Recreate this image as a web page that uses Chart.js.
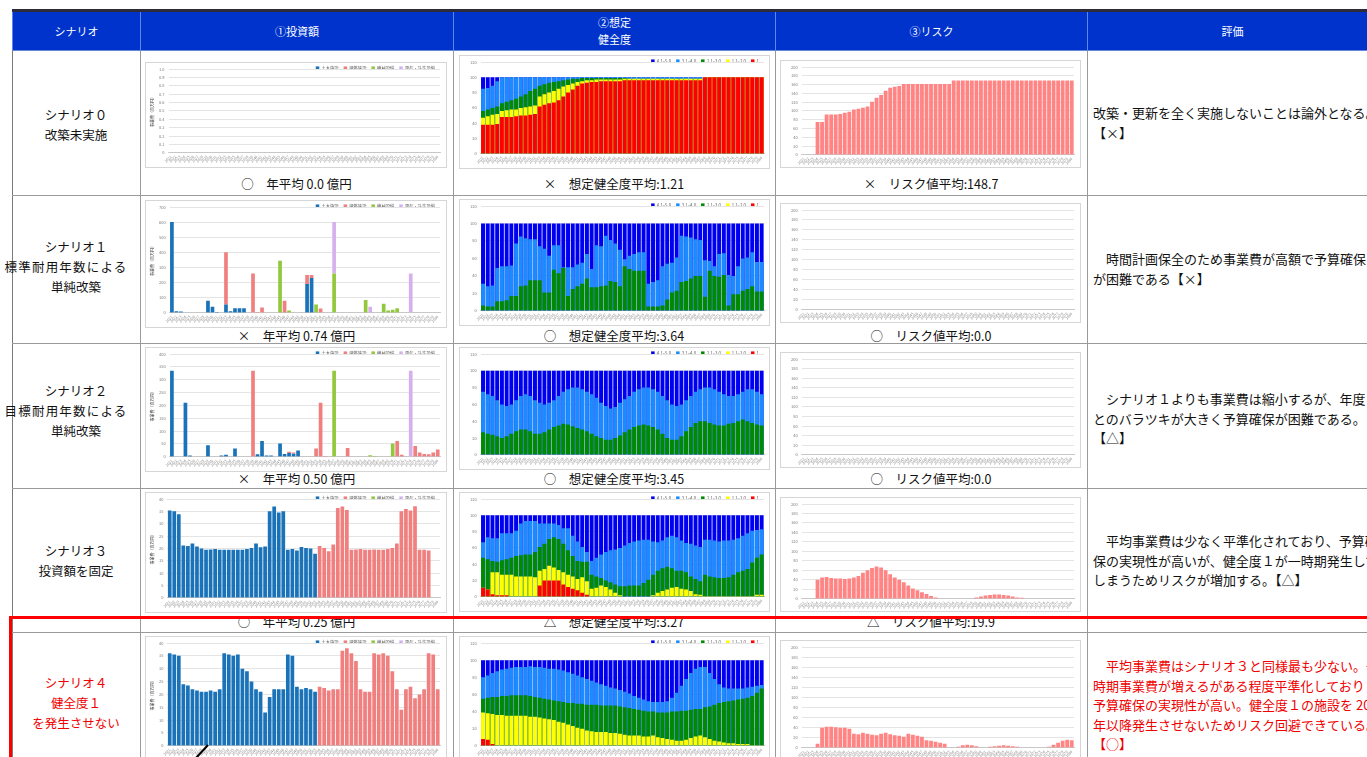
<!DOCTYPE html>
<html lang="ja">
<head>
<meta charset="utf-8">
<title>シナリオ比較</title>
<script src="https://cdn.jsdelivr.net/npm/chart.js@4.4.1/dist/chart.umd.min.js"></script>
<style>
html,body{margin:0;padding:0;background:#fff;width:1367px;height:757px;overflow:hidden;}
body{font-family:"Noto Sans CJK JP","Noto Sans",sans-serif;}
#sheet{position:absolute;left:0;top:0;width:1367px;height:757px;overflow:hidden;background:#fff;}
.abs{position:absolute;}
.hdr{position:absolute;top:12px;height:38px;background:#0033cc;color:#fff;font-size:11px;line-height:17px;
  display:flex;align-items:center;justify-content:center;text-align:center;box-sizing:border-box;border-left:1px solid #5f86ea;}
.vl{position:absolute;width:1px;background:#9a9a9a;}
.hl{position:absolute;height:1px;background:#9a9a9a;}
.scn{position:absolute;left:12px;width:128px;text-align:center;font-size:12.5px;line-height:20px;color:#111;white-space:nowrap;}
.box{position:absolute;background:#fff;border:1px solid #d6d6d6;box-sizing:border-box;}
.box canvas{display:block;}
.cap{position:absolute;text-align:center;font-size:12.5px;line-height:16px;color:#111;white-space:nowrap;}
.ev{position:absolute;left:1093px;width:274px;overflow:hidden;font-size:13px;line-height:19.5px;color:#111;white-space:nowrap;}
.red{color:#f00000;}
</style>
</head>
<body>
<div id="sheet"></div>
<script>
// ---- categories -------------------------------------------------------
const years = ['2021','2022','2023','2024','2025','2026','2027','2028','2029','2030',
  '2031','2032','2033','2034','2035','2036','2037','2038','2039','2040',
  '2041','2042','2043','2044','2045','2046','2047','2048','2049','2050',
  '2051','2052','2053','2054','2055','2056','2057','2058','2059','2060',
  '2061','2062','2063','2064','2065','2066','2067','2068','2069','2070',
  '2071','2072','2073','2074','2075','2076','2077','2078','2079','2080'];

const investLabels = ['土木施設','建築施設','機械設備','電気・計装設備'];
const healthLabels = ['4.1~5.0','3.1~4.0','2.1~3.0','1.1~2.0','1'];

const zeros = [0,0,0,0,0,0,0,0,0,0, 0,0,0,0,0,0,0,0,0,0, 0,0,0,0,0,0,0,0,0,0,
  0,0,0,0,0,0,0,0,0,0, 0,0,0,0,0,0,0,0,0,0, 0,0,0,0,0,0,0,0,0,0];
const full = [100,100,100,100,100,100,100,100,100,100, 100,100,100,100,100,100,100,100,100,100,
  100,100,100,100,100,100,100,100,100,100, 100,100,100,100,100,100,100,100,100,100,
  100,100,100,100,100,100,100,100,100,100, 100,100,100,100,100,100,100,100,100,100];

// ---- ① 投資額（百万円） ----------------------------------------------
// シナリオ1
const inv1Civil = [600,10,8,0,0,0,0,0,80,40, 5,0,55,10,30,30,30,0,0,0, 0,0,0,0,0,0,0,0,0,0, 190,230,0,0,0,0,0,0,0,0,
  0,0,0,0,0,0,0,0,0,0, 0,0,0,0,0,0,0,0,0,0];
const inv1Bldg = [0,0,0,0,0,0,0,0,0,0, 0,0,345,0,0,0,0,0,260,5, 35,0,0,0,0,80,0,0,0,0, 60,20,0,28,0,0,0,0,0,0,
  0,0,0,0,0,0,0,0,0,0, 0,0,0,0,0,0,0,0,0,0];
const inv1Mech = [0,0,0,0,0,0,0,0,0,0, 0,0,0,0,0,0,0,0,0,0, 0,0,0,0,345,0,15,0,0,0, 0,0,55,0,0,0,260,0,0,0,
  0,0,0,85,0,0,0,60,15,20, 30,0,0,0,0,0,0,0,0,0];
const inv1Elec = [0,0,0,0,0,0,0,0,0,0, 0,0,0,0,0,0,0,0,0,0, 0,0,0,0,0,0,0,0,0,0, 0,0,0,0,0,0,340,0,5,0,
  0,0,0,0,40,0,0,0,0,0, 0,0,0,260,0,0,0,0,0,0];
// シナリオ2
const inv2Civil = [335,0,0,210,5,0,0,0,45,0, 0,5,8,0,32,0,0,0,0,10, 62,5,5,0,52,11,15,12,25,0, 0,0,0,0,0,0,0,0,0,0,
  0,0,0,0,0,0,0,0,0,0, 0,0,0,0,0,0,0,0,0,0];
const inv2Bldg = [0,0,0,0,0,0,0,0,0,0, 0,0,0,0,0,0,0,0,335,0, 0,0,0,0,0,0,5,5,0,0, 0,0,32,210,3,0,0,0,0,34,
  0,0,0,0,0,0,0,0,0,0, 62,8,0,0,42,17,11,10,17,28];
const inv2Mech = [0,0,0,0,0,0,0,0,0,0, 0,0,0,0,0,0,0,0,0,0, 0,0,0,0,0,0,0,0,0,0, 0,0,0,0,0,0,335,0,0,0,
  0,0,0,0,6,3,0,0,0,52, 0,0,0,0,0,0,0,0,0,0];
const inv2Elec = [0,0,0,0,0,0,0,0,0,0, 0,0,0,0,0,0,0,0,0,0, 0,0,0,0,0,0,0,0,0,0, 0,0,0,0,0,0,0,0,0,0,
  0,0,0,0,0,0,0,0,0,0, 0,0,0,335,0,0,0,0,0,0];
// シナリオ3
const inv3Civil = [35.3,35,33.8,21.2,21,22,20.8,20,19.5,19.6, 19.8,19.5,19.5,19.5,19.5,19.5,19.5,19.8,20.2,22,
  20.5,20.8,35,37,34.5,35,19.5,19.8,19.2,20.6, 20.2,20,17.8,0,0,0,0,0,0,0,
  0,0,0,0,0,0,0,0,0,0, 0,0,0,0,0,0,0,0,0,0];
const inv3Bldg = [0,0,0,0,0,0,0,0,0,0, 0,0,0,0,0,0,0,0,0,0, 0,0,0,0,0,0,0,0,0,0, 0,0,0,21,20.2,18.8,21.6,36.4,37,35.5,
  19.5,19.6,19.8,19.5,19.5,19.6,19.5,19.5,19.8,20.2, 22,35,36,35.3,37.1,19.5,19.5,19.2,0,0];
// シナリオ4
const inv4Civil = [36,35.5,35,24,23.5,22,21.5,21,21,21.5, 21,22,36,35.5,35,35.5,30,29,25,22,
  21,13,19,22,22,22,35.5,35,23,22, 22.5,22,21,0,0,0,0,0,0,0,
  0,0,0,0,0,0,0,0,0,0, 0,0,0,0,0,0,0,0,0,0];
const inv4Bldg = [0,0,0,0,0,0,0,0,0,0, 0,0,0,0,0,0,0,0,0,0, 0,0,0,0,0,0,0,0,0,0, 0,0,0,23,22.5,21.5,22,22,37,38,
  36,33,22,21,21,36,35.5,36,35,29, 22,14,22,23,18.5,20,22,36,35.5,22];

// ---- ② 想定健全度（累積割合 %：健全度1 / 2以下 / 3以下 / 4以下 / 全体） --------
const h0Red  = [38,38,38,39,48,48,48,49,50,50, 51,52,62,64,66,67,70,75,80,84, 89,92,93,94,94,95,95,95,95,95,
  96,96,96,96,96,96,96,96,96,96, 96,96,96,96,96,96,96,100,100,100, 100,100,100,100,100,100,100,100,100,100];
const h0Yel  = [47,49,51,52,56,57,58,58,60,61, 62,63,75,78,80,82,85,88,90,92, 94,95,96,96,97,97,97,97,97,97,
  98,98,98,98,98,98,98,98,98,98, 98,98,98,98,98,98,98,100,100,100, 100,100,100,100,100,100,100,100,100,100];
const h0Grn  = [56,58,60,62,66,68,70,72,75,78, 82,85,89,91,93,94,95,96,97,98, 98,99,99,99,99,99,99,99,99,99,
  99,98,98,98,98,98,98,98,98,98, 98,98,98,98,98,98,98,100,100,100, 100,100,100,100,100,100,100,100,100,100];
const h0LBlu = [85,86,89,95,100,100,100,100,100,100, 100,100,100,100,100,100,100,100,100,100, 100,100,100,100,100,100,100,100,100,100,
  100,100,100,100,100,100,100,100,100,100, 100,100,100,100,100,100,100,100,100,100, 100,100,100,100,100,100,100,100,100,100];

const h1Grn  = [6,5,5,11,11,12,17,17,28,29, 35,35,35,21,21,47,43,49,17,25, 28,31,37,27,27,28,29,34,33,28,
  51,48,46,46,46,5,5,5,6,13, 21,23,33,34,37,40,40,16,46,40, 39,41,6,19,19,23,25,28,22,22];
const h1LBlu = [31,28,29,49,51,51,52,77,85,83, 82,82,74,71,63,75,75,50,50,50, 53,55,65,48,75,74,86,81,77,70,
  59,63,65,67,67,31,33,35,51,54, 55,61,86,85,84,82,81,58,57,51, 65,66,41,40,51,60,61,67,56,56];

const h2Grn  = [27,25,24,22,20,22,25,28,30,30, 28,25,25,27,30,33,35,37,36,34, 32,30,28,25,22,20,18,18,20,23,
  27,30,33,35,36,35,33,30,25,20, 18,18,22,28,33,38,40,40,38,36, 35,35,37,38,40,42,40,38,36,35];
const h2LBlu = [75,72,70,65,60,58,60,65,70,72, 70,65,62,60,62,65,70,75,78,80, 80,78,75,72,68,62,58,55,57,62,
  66,70,75,78,80,80,78,75,70,65, 60,58,60,65,70,75,78,80,80,78, 75,72,70,70,72,75,78,78,75,72];

const h3Red  = [11,9,3,2,2,2,0,0,0,0, 0,0,14,20,20,20,20,15,12,10, 8,5,2.5,0,0,0,0,0,0,0,
  0,0,0,0,0,0,0,0,0,0, 0,0,0,0,0,0,0,0,0,0, 0,0,0,0,0,0,0,0,0,0];
const h3Yel  = [11,9,30,30,27,27,27,25,25,25, 25,24,32,34,38,36,33,30,27,25, 22,24,19,10,11,14,12,9,5,2,
  0,0,0,0,0,0,2,5,7,9, 11,12,10,9,7,3,2.5,1,1,1, 1,1,1,1,1,1,1,1,2.5,2.5];
const h3Grn  = [48,46,44,43,45,46,48,50,51,52, 52,55,61,65,71,73,71,65,57,50, 44,43,43,27,25,23,20,18,15,13,
  13,14,14,14,17,21,27,32,35,37, 35,32,32,30,25,22,19,27,25,24, 23,23,24,27,30,32,34,42,48,52];
const h3LBlu = [67,73,72,72,78,78,78,81,90,93, 93,93,90,90,90,90,88,84,84,75, 68,61,55,44,48,52,55,57,58,60,
  63,66,68,69,70,70,68,67,69,73, 75,73,69,66,65,63,61,70,70,69, 68,69,69,70,72,75,78,81,82,83];

const h4Red  = [8,7,2,0,0,0,0,0,0,0, 0,0,0,0,0,0,0,0,0,0, 0,0,0,0,0,0,0,0,0,0,
  0,0,0,0,0,0,0,0,0,0, 0,0,0,0,0,0,0,0,0,0, 0,0,0,0,0,0,0,0,0,0];
const h4Yel  = [39,38,37,36,36,35,35,35,35,35, 34,34,33,32,31,30,28,27,25,23, 21,20,18,17,16,16,16,15,15,14,
  13,12,12,12,11,11,12,10,9,8, 7,6,6,7,9,11,12,10,8,6, 5,4,3,3,2,2,2,1,1,1];
const h4Grn  = [55,56,57,57,58,58,59,59,59,59, 58,57,56,55,54,53,52,51,50,50, 49,49,48,48,48,47,47,47,47,46,
  45,44,43,42,41,40,40,39,39,39, 40,40,41,41,42,43,43,45,46,48, 50,51,52,53,54,55,56,58,62,67];
const h4LBlu = [80,82,85,87,89,90,91,92,92,92, 93,92,92,91,90,90,89,88,86,84, 82,80,78,76,74,72,70,68,67,65,
  63,61,58,56,54,52,51,51,51,52, 56,62,70,78,85,90,92,92,85,78, 72,68,67,67,67,67,68,69,70,71];

// ---- ③ リスク値 --------------------------------------------------------
const risk0 = [0,0,0,75,75,92,92,92,93,96, 98,103,105,107,110,121,130,136,146,153, 155,157,161,161,161,161,161,161,161,161,
  161,161,161,169,169,169,169,169,169,169, 169,169,169,169,169,169,169,169,169,169, 169,169,169,169,169,169,169,169,169,169];
const risk3 = [0,0,0,40,45,46,44,43,43,42, 43,45,48,55,60,65,68,66,60,52, 45,40,35,28,22,18,14,10,6,3,
  0,0,0,0,0,0,0,0,3,5, 7,8,9,9,8,7,5,3,2,0, 0,0,0,0,0,0,0,0,0,0];
const risk4 = [0,0,0,8,40,42,42,41,40,40, 38,28,27,30,28,26,25,28,30,27, 25,24,22,28,26,24,22,15,14,12,
  10,8,0,0,2,5,6,5,3,0, 0,2,3,4,5,4,3,2,0,0, 0,0,0,0,2,6,10,14,16,15];

// ---- table text --------------------------------------------------------
const headers = [
  {x:12, w:128, t:'シナリオ'},
  {x:140, w:313, t:'①投資額'},
  {x:453, w:322, t:'②想定<br>健全度'},
  {x:775, w:312, t:'③リスク'},
  {x:1087, w:290, t:'評価'}
];
const scenarioText = [
  ['シナリオ０','改築未実施'],
  ['シナリオ１','標準耐用年数による','単純改築'],
  ['シナリオ２','目標耐用年数による','単純改築'],
  ['シナリオ３','投資額を固定'],
  ['シナリオ４','健全度１','を発生させない']
];
const investCaption = ['○　年平均 0.0 億円','×　年平均 0.74 億円','×　年平均 0.50 億円','○　年平均 0.25 億円'];
const healthCaption = ['×　想定健全度平均:1.21','○　想定健全度平均:3.64','○　想定健全度平均:3.45','△　想定健全度平均:3.27'];
const riskCaption   = ['×　リスク値平均:148.7','○　リスク値平均:0.0','○　リスク値平均:0.0','△　リスク値平均:19.9'];
const evaluation = [
  ['改築・更新を全く実施しないことは論外となる。','【×】'],
  ['　時間計画保全のため事業費が高額で予算確保','が困難である【×】'],
  ['　シナリオ１よりも事業費は縮小するが、年度ご','とのバラツキが大きく予算確保が困難である。','【△】'],
  ['　平均事業費は少なく平準化されており、予算確','保の実現性が高いが、健全度１が一時期発生して','しまうためリスクが増加する。【△】'],
  ['　平均事業費はシナリオ３と同様最も少ない。一','時期事業費が増えるがある程度平準化しており','予算確保の実現性が高い。健全度１の施設を 2030','年以降発生させないためリスク回避できている。','【○】']
];

// ---- layout ------------------------------------------------------------
const sheet = document.getElementById('sheet');
function el(cls, css, html){
  const d = document.createElement('div');
  if (cls) d.className = cls;
  Object.assign(d.style, css);
  if (html !== undefined) d.innerHTML = html;
  sheet.appendChild(d);
  return d;
}

// header band
el('abs', {left:'12px', top:'9px', width:'1360px', height:'3px', background:'#2b2b3a'});
headers.forEach(h => el('hdr', {left:h.x+'px', width:h.w+'px'}, h.t));

// grid
const rowLines = [195, 343, 488, 632];
const colLines = [140, 453, 775, 1087];
el('vl', {left:'12px', top:'50px', height:'720px', background:'#7a7a7a'});
colLines.forEach(x => el('vl', {left:x+'px', top:'50px', height:'720px'}));
el('hl', {left:'12px', top:'50px', width:'1360px', background:'#6a86d8'});
rowLines.forEach(y => el('hl', {left:'12px', top:y+'px', width:'1360px'}));

// scenario column
const scenarioTop = [105, 237, 381, 541, 673];
scenarioText.forEach((lines, i) => {
  const d = el('scn' + (i === 4 ? ' red' : ''), {top: scenarioTop[i] + 'px'});
  lines.forEach(t => {
    const s = document.createElement('div');
    s.textContent = t;
    if (t.length > 7) { s.style.marginLeft = '-20px'; s.style.letterSpacing = '1.2px'; }
    d.appendChild(s);
  });
});

// evaluation column
const evalTop = [103, 249, 389, 531, 656];
evaluation.forEach((lines, i) => {
  const d = el('ev' + (i === 4 ? ' red' : ''), {top: evalTop[i] + 'px'});
  lines.forEach(t => { const s = document.createElement('div'); s.textContent = t; d.appendChild(s); });
});

// captions
const capY = [176, 328, 471, 614];
const capCols = [{x:140,w:313,t:investCaption},{x:453,w:322,t:healthCaption},{x:775,w:312,t:riskCaption}];
capCols.forEach(c => c.t.forEach((t, i) => el('cap', {left:c.x+'px', width:c.w+'px', top:capY[i]+'px'}, t)));

// chart boxes: [left, width] per column, [top, height] per row
const boxCols = {inv:[145,302], hl:[459,311], rk:[780,301]};
const boxRows = {
  inv:[[62,106],[200,128],[347,125],[492,121],[636,125]],
  hl: [[55,114],[199,127],[347,123],[492,120],[636,125]],
  rk: [[60,108],[203,120],[352,116],[497,115],[640,121]]
};
function makeCanvas(kind, row){
  const [x, w] = boxCols[kind];
  const [y, h] = boxRows[kind][row];
  const box = el('box', {left:x+'px', top:y+'px', width:w+'px', height:h+'px'});
  const c = document.createElement('canvas');
  c.width = w - 2; c.height = h - 2;
  box.appendChild(c);
  return c;
}

// ---- chart styling -----------------------------------------------------
Chart.defaults.font.family = '"Noto Sans CJK JP","Noto Sans",sans-serif';
Chart.defaults.font.size = 4;
Chart.defaults.color = '#595959';
const tiny = {size:4, lineHeight:1};
const gridColor = '#d9d9d9';

function xAxis(stacked){
  return {
    stacked: stacked,
    grid: {display:false, drawTicks:false, tickLength:0},
    border: {color:'#bfbfbf', width:0.8},
    ticks: {autoSkip:false, maxRotation:45, minRotation:45, font:{size:3.6, lineHeight:1}, padding:2, color:'#8a8a8a'}
  };
}
function yAxis(max, step, stacked, title){
  return {
    stacked: stacked,
    min: 0, max: max,
    grid: {color:gridColor, lineWidth:0.7, drawTicks:false},
    border: {display:false},
    ticks: {stepSize: step, font:tiny, padding:4, color:'#7f7f7f'},
    title: title ? {display:true, text:title, font:tiny, padding:1, color:'#404040'} : {display:false}
  };
}
// compact legend row: drawn a few pixels above the top gridline
function legendCfg(reverse){
  return {
    display:true, position:'top', align:'end', reverse: reverse, maxHeight: 8,
    labels:{boxWidth:3.5, boxHeight:3.5, font:{size:4.3, lineHeight:1}, padding:5, color:'#595959'}
  };
}
const baseOpts = {responsive:false, animation:false, events:[], devicePixelRatio:1};

const investColors = ['#1a73b8', '#f08080', '#92c83e', '#d6b0ee'];
function investChart(row, series, max, step){
  new Chart(makeCanvas('inv', row), {
    type:'bar',
    data:{labels:years, datasets: series.map((s, i) => ({
      label: investLabels[i], data: s, backgroundColor: investColors[i],
      categoryPercentage: 1.0, barPercentage: 0.82
    }))},
    options: Object.assign({}, baseOpts, {
      layout:{padding:{left:3, right:6, top:-2, bottom:2}},
      plugins:{legend: legendCfg(false), tooltip:{enabled:false}},
      scales:{x: xAxis(true), y: yAxis(max, step, true, '事業費（百万円）')}
    })
  });
}

const healthColors = ['#ff0000', '#ffff00', '#008a00', '#1a8cff', '#0000f0'];
function healthChart(row, bands){
  // bands: cumulative share for 健全度1, ≤2, ≤3, ≤4, all (drawn front to back)
  new Chart(makeCanvas('hl', row), {
    type:'bar',
    data:{labels:years, datasets: bands.map((b, i) => ({
      label: healthLabels[4 - i], data: b, backgroundColor: healthColors[i],
      grouped:false, categoryPercentage: 1.0, barPercentage: 0.84
    }))},
    options: Object.assign({}, baseOpts, {
      layout:{padding:{left:6, right:5, top:-3, bottom:2}},
      plugins:{legend: legendCfg(true), tooltip:{enabled:false}},
      scales:{x: xAxis(false), y: yAxis(120, 20, false, null)}
    })
  });
}

function riskChart(row, values){
  new Chart(makeCanvas('rk', row), {
    type:'bar',
    data:{labels:years, datasets:[{label:'リスク値', data: values, backgroundColor:'#ff8585',
      categoryPercentage:1.0, barPercentage:0.84}]},
    options: Object.assign({}, baseOpts, {
      layout:{padding:{left:6, right:6, top:2, bottom:0}},
      plugins:{legend:{display:false}, tooltip:{enabled:false}},
      scales:{x: xAxis(false), y: yAxis(200, 20, false, null)}
    })
  });
}

// ① 投資額
investChart(0, [zeros, zeros, zeros, zeros], 1, 0.1);
investChart(1, [inv1Civil, inv1Bldg, inv1Mech, inv1Elec], 700, 100);
investChart(2, [inv2Civil, inv2Bldg, inv2Mech, inv2Elec], 400, 50);
investChart(3, [inv3Civil, inv3Bldg, zeros, zeros], 40, 5);
investChart(4, [inv4Civil, inv4Bldg, zeros, zeros], 40, 5);

// ② 想定健全度
healthChart(0, [h0Red, h0Yel, h0Grn, h0LBlu, full]);
healthChart(1, [zeros, zeros, h1Grn, h1LBlu, full]);
healthChart(2, [zeros, zeros, h2Grn, h2LBlu, full]);
healthChart(3, [h3Red, h3Yel, h3Grn, h3LBlu, full]);
healthChart(4, [h4Red, h4Yel, h4Grn, h4LBlu, full]);

// ③ リスク
riskChart(0, risk0);
riskChart(1, zeros);
riskChart(2, zeros);
riskChart(3, risk3);
riskChart(4, risk4);

// highlight frame around シナリオ４ and the pointer line
el('abs', {left:'9px', top:'616px', width:'1400px', height:'200px', border:'3px solid #ff0000', boxSizing:'border-box'});
const ns = 'http://www.w3.org/2000/svg';
const svg = document.createElementNS(ns, 'svg');
svg.setAttribute('width', '30'); svg.setAttribute('height', '20');
Object.assign(svg.style, {position:'absolute', left:'190px', top:'740px'});
const ln = document.createElementNS(ns, 'line');
ln.setAttribute('x1', '6'); ln.setAttribute('y1', '18'); ln.setAttribute('x2', '18'); ln.setAttribute('y2', '5');
ln.setAttribute('stroke', '#000'); ln.setAttribute('stroke-width', '2');
svg.appendChild(ln);
sheet.appendChild(svg);
</script>
</body>
</html>
